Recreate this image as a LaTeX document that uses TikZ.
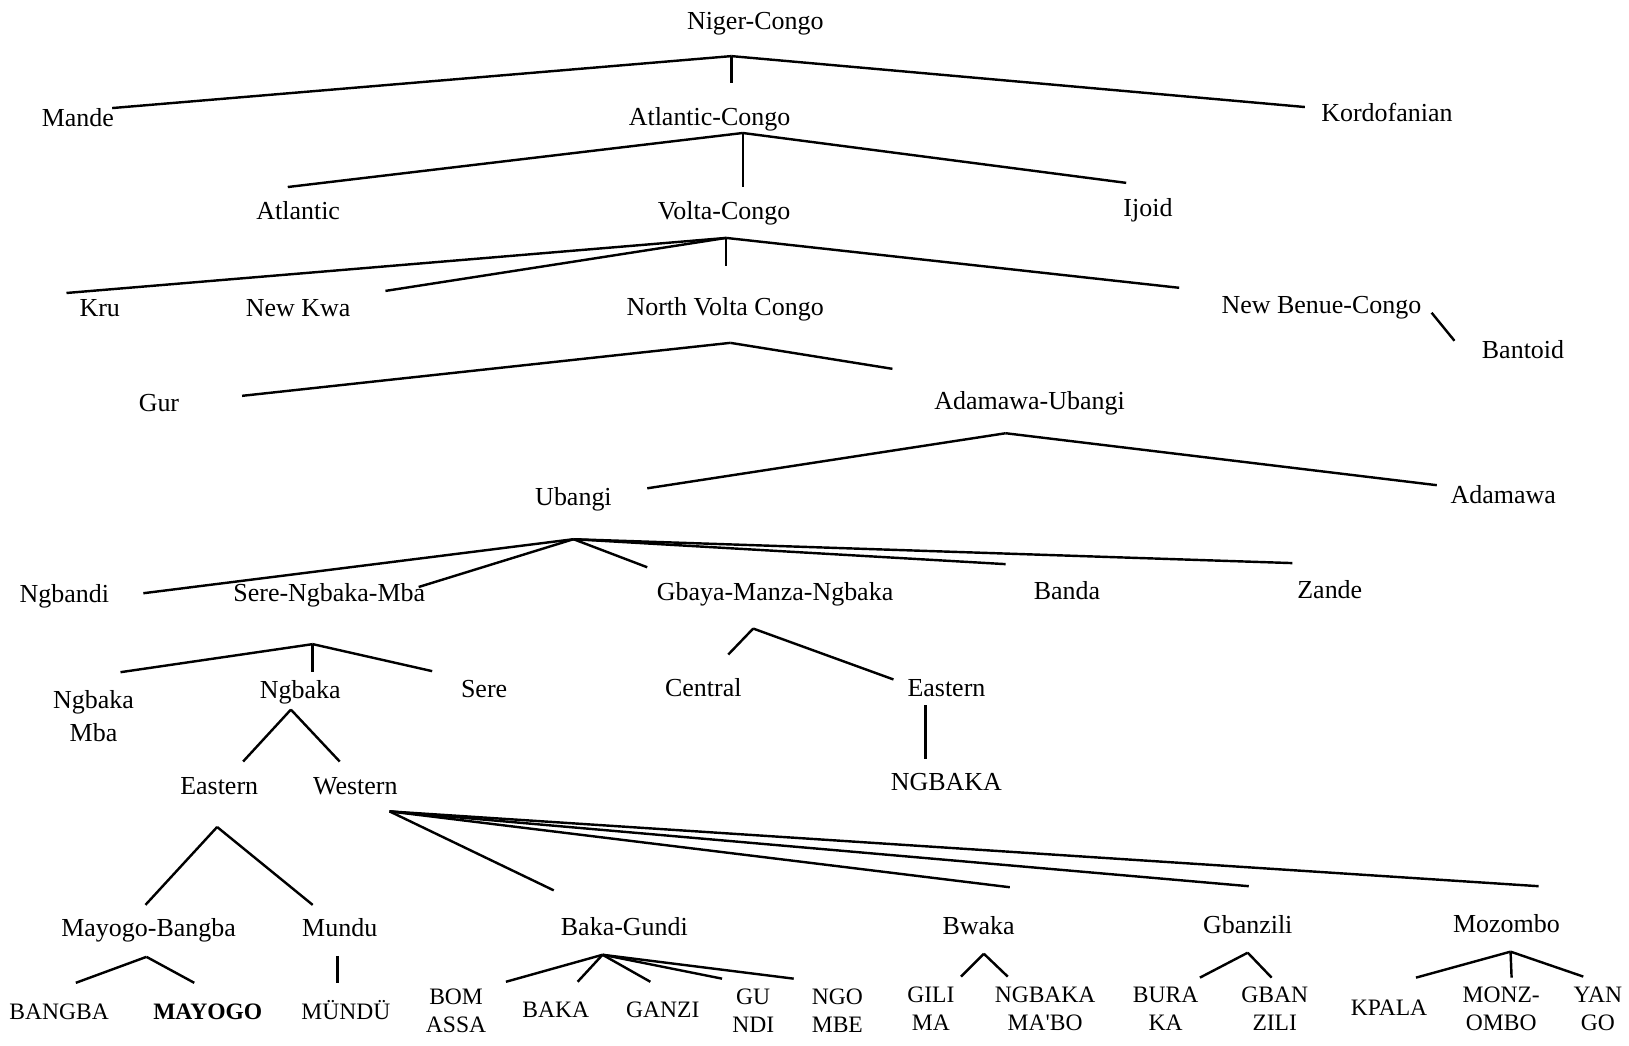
\documentclass[tikz,border=0pt]{standalone}
\usepackage{fontspec}
\setmainfont{Liberation Serif}

\begin{document}
\begin{tikzpicture}[x=0.3pt, y=-0.3pt, line width=0.7pt,
  lang/.style={font=\fontsize{7.5}{9.6}\selectfont, inner sep=1pt, text height=5.3pt, text depth=1.5pt},
  lang2/.style={font=\fontsize{7.5}{9.6}\selectfont, inner sep=1pt, align=center},
  dial/.style={font=\fontsize{6.8}{8.25}\selectfont, inner sep=1pt, text height=4.5pt, text depth=0pt},
  dial2/.style={font=\fontsize{6.8}{8.25}\selectfont, inner sep=1pt, align=center}]
  \useasboundingbox (0,0) rectangle (1568,1006);
  % raiz
  \node[lang] (nc) at (727,22) {Niger-Congo};
  \node[lang] (mande) at (75,115) {Mande};
  \node[lang] (ac) at (683,114) {Atlantic-Congo};
  \node[lang] (kord) at (1335,111) {Kordofanian};
  \coordinate (nc-f) at (704,54);
  \draw (nc-f) -- ([shift={(33,-11)}]mande.center);
  \draw (nc-f) -- ([shift={(21,-34)}]ac.center);
  \draw (nc-f) -- ([shift={(-79,-8)}]kord.center);
  % Atlantic-Congo
  \node[lang] (atl) at (287,205) {Atlantic};
  \node[lang] (vc) at (697,205) {Volta-Congo};
  \node[lang] (ijoid) at (1105,202) {Ijoid};
  \coordinate (ac-f) at (715,128);
  \draw (ac-f) -- ([shift={(-10,-25)}]atl.center);
  \draw (ac-f) -- ([shift={(18,-25)}]vc.center);
  \draw (ac-f) -- ([shift={(-21,-26)}]ijoid.center);
  % Volta-Congo
  \node[lang] (kru) at (96,298) {Kru};
  \node[lang] (nkwa) at (287,298) {New Kwa};
  \node[lang] (nvc) at (698,297) {North Volta Congo};
  \node[lang] (nbc) at (1272,295) {New Benue-Congo};
  \node[lang] (bantoid) at (1466,339) {Bantoid};
  \coordinate (vc-f) at (699,229);
  \draw (vc-f) -- ([shift={(-32,-16)}]kru.center);
  \draw (vc-f) -- ([shift={(84,-18)}]nkwa.center);
  \draw (vc-f) -- ([shift={(1,-41)}]nvc.center);
  \draw (vc-f) -- ([shift={(-137,-18)}]nbc.center);
  \draw ([shift={(106,6)}]nbc.center) -- ([shift={(-66,-11)}]bantoid.center);
  % North Volta Congo
  \node[lang] (gur) at (153,390) {Gur};
  \node[lang] (au) at (991,388) {Adamawa-Ubangi};
  \coordinate (nvc-f) at (703,330);
  \draw (nvc-f) -- ([shift={(80,-9)}]gur.center);
  \draw (nvc-f) -- ([shift={(-132,-33)}]au.center);
  % Adamawa-Ubangi
  \node[lang] (ubangi) at (552,480) {Ubangi};
  \node[lang] (adamawa) at (1447,478) {Adamawa};
  \coordinate (au-f) at (968,417);
  \draw (au-f) -- ([shift={(71,-10)}]ubangi.center);
  \draw (au-f) -- ([shift={(-64,-11)}]adamawa.center);
  % Ubangi
  \node[lang] (ngbandi) at (62,574) {Ngbandi};
  \node[lang] (snm) at (317,573) {Sere-Ngbaka-Mba};
  \node[lang] (gmn) at (746,572) {Gbaya-Manza-Ngbaka};
  \node[lang] (banda) at (1027,571) {Banda};
  \node[lang] (zande) at (1280,570) {Zande};
  \coordinate (ub-f) at (552,519);
  \draw (ub-f) -- ([shift={(76,-3)}]ngbandi.center);
  \draw (ub-f) -- ([shift={(86,-8)}]snm.center);
  \draw (ub-f) -- ([shift={(-123,-26)}]gmn.center);
  \draw (ub-f) -- ([shift={(-59,-28)}]banda.center);
  \draw (ub-f) -- ([shift={(-36,-28)}]zande.center);
  % Sere-Ngbaka-Mba
  \node[lang2] (nmba) at (90,689) {Ngbaka\\Mba};
  \node[lang] (ngbaka) at (289,666) {Ngbaka};
  \node[lang] (sere) at (466,665) {Sere};
  \coordinate (snm-f) at (301,620);
  \draw (snm-f) -- ([shift={(26,-42)}]nmba.center);
  \draw (snm-f) -- ([shift={(12,-19)}]ngbaka.center);
  \draw (snm-f) -- ([shift={(-50,-19)}]sere.center);
  % Gbaya-Manza-Ngbaka
  \node[lang] (central) at (677,664) {Central};
  \node[lang] (geast) at (911,664) {Eastern};
  \node[lang] (gngbaka) at (911,755) {NGBAKA};
  \coordinate (gmn-f) at (725,605);
  \draw (gmn-f) -- ([shift={(24,-34)}]central.center);
  \draw (gmn-f) -- ([shift={(-51,-10)}]geast.center);
  \draw ([shift={(-20,15)}]geast.center) -- ([shift={(-20,-24)}]gngbaka.center);
  % Ngbaka
  \node[lang] (east) at (211,758) {Eastern};
  \node[lang] (west) at (342,758) {Western};
  \coordinate (ngbaka-f) at (280,683);
  \draw (ngbaka-f) -- ([shift={(23,-25)}]east.center);
  \draw (ngbaka-f) -- ([shift={(-15,-25)}]west.center);
  % Eastern
  \node[lang] (mb) at (143,895) {Mayogo-Bangba};
  \node[lang] (mundu) at (327,895) {Mundu};
  \coordinate (east-f) at (209,796);
  \draw (east-f) -- ([shift={(-3,-24)}]mb.center);
  \draw (east-f) -- ([shift={(-26,-24)}]mundu.center);
  % Western
  \node[lang] (bg) at (601,894) {Baka-Gundi};
  \node[lang] (bwaka) at (942,893) {Bwaka};
  \node[lang] (gbanzili) at (1201,892) {Gbanzili};
  \node[lang] (mozombo) at (1450,891) {Mozombo};
  \coordinate (west-f) at (375,781);
  \draw (west-f) -- ([shift={(-68,-37)}]bg.center);
  \draw (west-f) -- ([shift={(30,-39)}]bwaka.center);
  \draw (west-f) -- ([shift={(1,-39)}]gbanzili.center);
  \draw (west-f) -- ([shift={(31,-38)}]mozombo.center);
  % lenguas
  \node[dial] (bangba) at (57,974) {BANGBA};
  \node[dial, font=\fontsize{6.8}{8.25}\selectfont\bfseries] (mayogo) at (200,974) {MAYOGO};
  \node[dial] (mundu2) at (333,974) {MÜNDÜ};
  \node[dial2] (bomassa) at (439,973) {BOM\\ASSA};
  \node[dial] (baka) at (535,972) {BAKA};
  \node[dial] (ganzi) at (638,972) {GANZI};
  \node[dial2] (gundi) at (725,973) {GU\\NDI};
  \node[dial2] (ngombe) at (806,973) {NGO\\MBE};
  \node[dial2] (gilima) at (896,971) {GILI\\MA};
  \node[dial2] (ngmabo) at (1006,971) {NGBAKA\\MA\textquotesingle BO};
  \node[dial2] (buraka) at (1122,971) {BURA\\KA};
  \node[dial2] (gbanzili2) at (1227,971) {GBAN\\ZILI};
  \node[dial] (kpala) at (1337,970) {KPALA};
  \node[dial2] (monzombo) at (1445,971) {MONZ-\\OMBO};
  \node[dial2] (yango) at (1538,971) {YAN\\GO};
  \coordinate (mb-f) at (141,921);
  \draw (mb-f) -- ([shift={(16,-28)}]bangba.center);
  \draw (mb-f) -- ([shift={(-13,-28)}]mayogo.center);
  \draw ([shift={(-2,25)}]mundu.center) -- ([shift={(-8,-28)}]mundu2.center);
  \coordinate (bg-f) at (580,919);
  \draw (bg-f) -- ([shift={(48,-28)}]bomassa.center);
  \draw (bg-f) -- ([shift={(21,-27)}]baka.center);
  \draw (bg-f) -- ([shift={(-12,-27)}]ganzi.center);
  \draw (bg-f) -- ([shift={(-30,-31)}]gundi.center);
  \draw (bg-f) -- ([shift={(-42,-31)}]ngombe.center);
  \coordinate (bwaka-f) at (947,918);
  \draw (bwaka-f) -- ([shift={(29,-31)}]gilima.center);
  \draw (bwaka-f) -- ([shift={(-36,-31)}]ngmabo.center);
  \coordinate (gbz-f) at (1201,917);
  \draw (gbz-f) -- ([shift={(33,-30)}]buraka.center);
  \draw (gbz-f) -- ([shift={(-3,-30)}]gbanzili2.center);
  \coordinate (moz-f) at (1454,916);
  \draw (moz-f) -- ([shift={(26,-29)}]kpala.center);
  \draw (moz-f) -- ([shift={(10,-30)}]monzombo.center);
  \draw (moz-f) -- ([shift={(-14,-31)}]yango.center);
\end{tikzpicture}
\end{document}
